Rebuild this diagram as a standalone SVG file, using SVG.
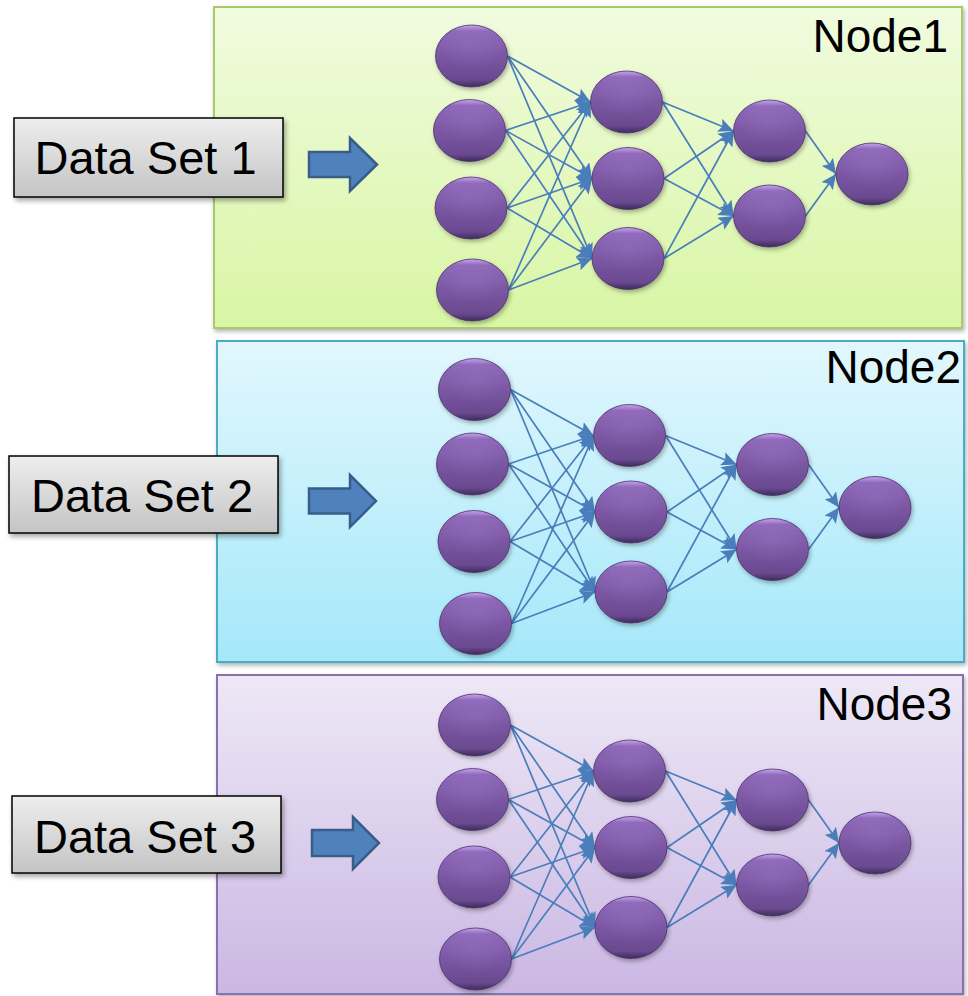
<svg xmlns="http://www.w3.org/2000/svg" width="968" height="996" viewBox="0 0 968 996">
  <defs>
    <style>
      .label { font-family: "Liberation Sans", Arial, sans-serif; fill: #000; }
      .ds { font-size: 47px; text-anchor: middle; }
      .nm { font-size: 46px; text-anchor: end; }
      .box { fill: url(#gBox); stroke: #000; stroke-width: 1.5; filter: url(#shadow); }
      .panel { stroke-width: 2; filter: url(#shadowSoft); }
      .neuron { fill: url(#gNeuron); stroke: #4a3168; stroke-width: 0.8; filter: url(#shadowSoft); }
      .shine { fill: url(#gShine); }
      .link { stroke: #4a7ebb; stroke-width: 1.7; fill: none; marker-end: url(#tip); }
      .feed { fill: #4f81bd; stroke: #385d8a; stroke-width: 2.5; }
    </style>
    <linearGradient id="gGreen" x1="0" y1="0" x2="0" y2="1">
      <stop offset="0" stop-color="#f1fbdf"/>
      <stop offset="1" stop-color="#d8f6a4"/>
    </linearGradient>
    <linearGradient id="gBlue" x1="0" y1="0" x2="0" y2="1">
      <stop offset="0" stop-color="#e2f7fd"/>
      <stop offset="1" stop-color="#a5e8fa"/>
    </linearGradient>
    <linearGradient id="gLilac" x1="0" y1="0" x2="0" y2="1">
      <stop offset="0" stop-color="#eee8f6"/>
      <stop offset="1" stop-color="#cab7e3"/>
    </linearGradient>
    <linearGradient id="gBox" x1="0" y1="0" x2="0" y2="1">
      <stop offset="0" stop-color="#eeeeee"/>
      <stop offset="1" stop-color="#c4c4c4"/>
    </linearGradient>
    <linearGradient id="gNeuron" x1="0" y1="0" x2="0" y2="1">
      <stop offset="0" stop-color="#c8a4ee"/>
      <stop offset="0.1" stop-color="#8f69ba"/>
      <stop offset="0.5" stop-color="#7b57a3"/>
      <stop offset="0.88" stop-color="#6a4a90"/>
      <stop offset="1" stop-color="#3f2b5a"/>
    </linearGradient>
    <radialGradient id="gShine" cx="0.5" cy="0.35" r="0.55">
      <stop offset="0" stop-color="#9a78c4" stop-opacity="0.35"/>
      <stop offset="1" stop-color="#9a78c4" stop-opacity="0"/>
    </radialGradient>
    <filter id="shadow" x="-10%" y="-20%" width="130%" height="150%">
      <feDropShadow dx="2" dy="3" stdDeviation="2.5" flood-color="#000" flood-opacity="0.35"/>
    </filter>
    <filter id="shadowSoft" x="-10%" y="-10%" width="130%" height="130%">
      <feDropShadow dx="1.5" dy="2.5" stdDeviation="2" flood-color="#000" flood-opacity="0.3"/>
    </filter>
    <marker id="tip" markerUnits="userSpaceOnUse" markerWidth="15" markerHeight="14" refX="15" refY="7" orient="auto">
      <path d="M0,0 L15,7 L0,14 L3,7 Z" fill="#4a7ebb"/>
    </marker>
    <!-- one network: 4 inputs, 3 + 2 hidden units, 1 output -->
    <g id="links">
      <line class="link" x1="507.5" y1="56" x2="590.5" y2="102"/>
      <line class="link" x1="507.5" y1="56" x2="592" y2="178.5"/>
      <line class="link" x1="507.5" y1="56" x2="592" y2="258.5"/>
      <line class="link" x1="505.5" y1="130.5" x2="590.5" y2="102"/>
      <line class="link" x1="505.5" y1="130.5" x2="592" y2="178.5"/>
      <line class="link" x1="505.5" y1="130.5" x2="592" y2="258.5"/>
      <line class="link" x1="507" y1="208" x2="590.5" y2="102"/>
      <line class="link" x1="507" y1="208" x2="592" y2="178.5"/>
      <line class="link" x1="507" y1="208" x2="592" y2="258.5"/>
      <line class="link" x1="508.5" y1="290" x2="590.5" y2="102"/>
      <line class="link" x1="508.5" y1="290" x2="592" y2="178.5"/>
      <line class="link" x1="508.5" y1="290" x2="592" y2="258.5"/>
      <line class="link" x1="662.5" y1="102" x2="733.5" y2="131"/>
      <line class="link" x1="662.5" y1="102" x2="733.5" y2="216"/>
      <line class="link" x1="664" y1="178.5" x2="733.5" y2="131"/>
      <line class="link" x1="664" y1="178.5" x2="733.5" y2="216"/>
      <line class="link" x1="664" y1="258.5" x2="733.5" y2="131"/>
      <line class="link" x1="664" y1="258.5" x2="733.5" y2="216"/>
      <line class="link" x1="805.5" y1="131" x2="836" y2="174"/>
      <line class="link" x1="805.5" y1="216" x2="836" y2="174"/>
    </g>
    <g id="unit">
      <ellipse class="neuron" cx="0" cy="0" rx="36" ry="31"/>
      <ellipse class="shine" cx="0" cy="-4" rx="30" ry="22"/>
    </g>
  </defs>

  <!-- panels -->
  <g id="panel1">
    <rect class="panel" x="214" y="7" width="748" height="321" fill="url(#gGreen)" stroke="#a9c96c"/>
    <text class="label nm" x="948" y="52">Node1</text>
  </g>
  <g id="panel2">
    <rect class="panel" x="217" y="341" width="747" height="321" fill="url(#gBlue)" stroke="#4bacc6"/>
    <text class="label nm" x="961" y="383">Node2</text>
  </g>
  <g id="panel3">
    <rect class="panel" x="217" y="675" width="746" height="319" fill="url(#gLilac)" stroke="#8a6fb0"/>
    <text class="label nm" x="952" y="720">Node3</text>
  </g>

  <!-- data sets and feed arrows -->
  <g id="data1">
    <rect class="box" x="14" y="118" width="269" height="79"/>
    <text class="label ds" x="145.5" y="174">Data Set 1</text>
  </g>
  <g id="data2">
    <rect class="box" x="9" y="456" width="269" height="77"/>
    <text class="label ds" x="142" y="512">Data Set 2</text>
  </g>
  <g id="data3">
    <rect class="box" x="12" y="796" width="269" height="77"/>
    <text class="label ds" x="145" y="853">Data Set 3</text>
  </g>

  <g id="connectors">
    <path class="feed" d="M309,152 H350 V138 L377,164.5 L350,191 V177 H309 Z"/>
    <path class="feed" d="M309,488.5 H350 V475 L376,501 L350,527 V513.5 H309 Z"/>
    <path class="feed" d="M312,830 H353 V817 L379,843 L353,869 V856 H312 Z"/>
    <use href="#links"/>
    <use href="#links" transform="translate(3,333.5)"/>
    <use href="#links" transform="translate(3,669)"/>
  </g>

  <!-- network units, one group per network -->
  <g id="net1">
    <use id="n1-i1" href="#unit" x="471.5" y="56"/>
    <use id="n1-i2" href="#unit" x="469.5" y="130.5"/>
    <use id="n1-i3" href="#unit" x="471" y="208"/>
    <use id="n1-i4" href="#unit" x="472.5" y="290"/>
    <use id="n1-h1" href="#unit" x="626.5" y="102"/>
    <use id="n1-h2" href="#unit" x="628" y="178.5"/>
    <use id="n1-h3" href="#unit" x="628" y="258.5"/>
    <use id="n1-k1" href="#unit" x="769.5" y="131"/>
    <use id="n1-k2" href="#unit" x="769.5" y="216"/>
    <use id="n1-out" href="#unit" x="872" y="174"/>
  </g>
  <g id="net2" transform="translate(3,333.5)">
    <use id="n2-i1" href="#unit" x="471.5" y="56"/>
    <use id="n2-i2" href="#unit" x="469.5" y="130.5"/>
    <use id="n2-i3" href="#unit" x="471" y="208"/>
    <use id="n2-i4" href="#unit" x="472.5" y="290"/>
    <use id="n2-h1" href="#unit" x="626.5" y="102"/>
    <use id="n2-h2" href="#unit" x="628" y="178.5"/>
    <use id="n2-h3" href="#unit" x="628" y="258.5"/>
    <use id="n2-k1" href="#unit" x="769.5" y="131"/>
    <use id="n2-k2" href="#unit" x="769.5" y="216"/>
    <use id="n2-out" href="#unit" x="872" y="174"/>
  </g>
  <g id="net3" transform="translate(3,669)">
    <use id="n3-i1" href="#unit" x="471.5" y="56"/>
    <use id="n3-i2" href="#unit" x="469.5" y="130.5"/>
    <use id="n3-i3" href="#unit" x="471" y="208"/>
    <use id="n3-i4" href="#unit" x="472.5" y="290"/>
    <use id="n3-h1" href="#unit" x="626.5" y="102"/>
    <use id="n3-h2" href="#unit" x="628" y="178.5"/>
    <use id="n3-h3" href="#unit" x="628" y="258.5"/>
    <use id="n3-k1" href="#unit" x="769.5" y="131"/>
    <use id="n3-k2" href="#unit" x="769.5" y="216"/>
    <use id="n3-out" href="#unit" x="872" y="174"/>
  </g>
</svg>
